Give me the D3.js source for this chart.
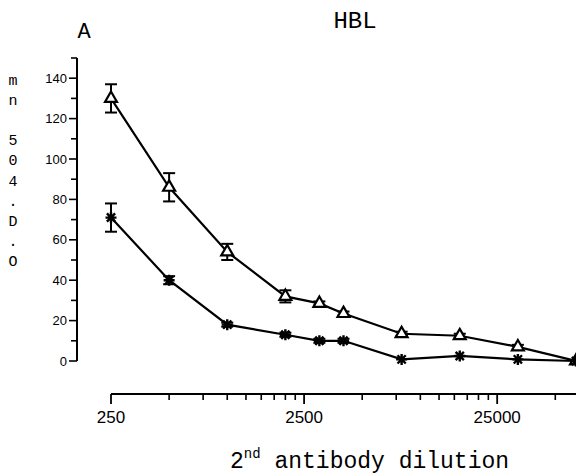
<!DOCTYPE html>
<html>
<head>
<meta charset="utf-8">
<script src="https://cdn.jsdelivr.net/npm/d3@7"></script>
<style>
  body { margin: 0; background: #fff; }
</style>
</head>
<body>
<script>
// dilution steps (x) and O.D. readings
var dilutions = [250, 500, 1000, 2000, 3000, 4000, 8000, 16000, 32000, 64000];
var triangleVals = [130, 86, 54, 32, 28.5, 23.5, 13.5, 12.5, 7, 0];
var triangleErr = [7, 7, 4, 3, 1, 1, 1, 1, 1, 0];
var starVals = [71, 40, 18, 13, 10, 10, 0.8, 2.5, 0.8, 0];
var starErr = [7, 2, 1, 1, 1, 1, 0, 0, 0, 0];
var xMajorTicks = [250, 2500, 25000];
var yTicks = [0, 20, 40, 60, 80, 100, 120, 140];

var svgWidth = 576;
var svgHeight = 474;

var svg = d3.select('body').append('svg')
  .attr('width', svgWidth)
  .attr('height', svgHeight);

var mono = '"Liberation Mono", "Courier New", monospace';
var sans = '"Liberation Sans", Arial, sans-serif';

var xScale = d3.scaleLog()
  .domain([250, 64000])
  .range([111, 576]);

var yScale = d3.scaleLinear()
  .domain([0, 150])
  .range([361, 58]);

// y axis
var yAxisX = 77;
var yg = svg.append('g');
yg.append('line')
  .attr('x1', yAxisX).attr('x2', yAxisX)
  .attr('y1', yScale(150)).attr('y2', yScale(0))
  .attr('stroke', '#000').attr('stroke-width', 2);
d3.range(0, 151, 10).forEach(function(v) {
  yg.append('line')
    .attr('x1', yAxisX - (v % 20 === 0 ? 8 : 6)).attr('x2', yAxisX)
    .attr('y1', yScale(v)).attr('y2', yScale(v))
    .attr('stroke', '#000').attr('stroke-width', 1.6);
});
yg.selectAll('text.ytick')
  .data(yTicks)
  .enter().append('text')
  .attr('class', 'ytick')
  .attr('x', yAxisX - 10)
  .attr('y', function(d) { return yScale(d) + 4.5; })
  .attr('text-anchor', 'end')
  .style('font-family', sans)
  .style('font-size', '13px')
  .text(function(d) { return d; });

// x axis
var xAxisY = 394;
var xg = svg.append('g');
xg.append('line')
  .attr('x1', xScale(250)).attr('x2', 576)
  .attr('y1', xAxisY).attr('y2', xAxisY)
  .attr('stroke', '#000').attr('stroke-width', 2);
var minor = [];
[250, 2500, 25000].forEach(function(base) {
  for (var m = 2; m <= 9; m++) minor.push(base * m);
});
minor = minor.filter(function(v) { return v <= 64000; });
minor.forEach(function(v) {
  xg.append('line')
    .attr('x1', xScale(v)).attr('x2', xScale(v))
    .attr('y1', xAxisY).attr('y2', xAxisY + 6)
    .attr('stroke', '#000').attr('stroke-width', 1.6);
});
xMajorTicks.forEach(function(v) {
  xg.append('line')
    .attr('x1', xScale(v)).attr('x2', xScale(v))
    .attr('y1', xAxisY).attr('y2', xAxisY + 10)
    .attr('stroke', '#000').attr('stroke-width', 1.8);
  xg.append('text')
    .attr('x', xScale(v))
    .attr('y', 423)
    .attr('text-anchor', 'middle')
    .style('font-family', sans)
    .style('font-size', '17px')
    .text(v);
});

// series lines
var line = d3.line()
  .x(function(d) { return xScale(d.x); })
  .y(function(d) { return yScale(d.y); });

function series(vals, errs) {
  return dilutions.map(function(x, i) { return { x: x, y: vals[i], e: errs[i] }; });
}
var triData = series(triangleVals, triangleErr);
var starData = series(starVals, starErr);

[triData, starData].forEach(function(data) {
  svg.append('path')
    .datum(data)
    .attr('d', line)
    .attr('fill', 'none')
    .attr('stroke', '#000')
    .attr('stroke-width', 2.2);

  // error bars
  data.filter(function(d) { return d.e > 0; }).forEach(function(d) {
    var cx = xScale(d.x);
    var g = svg.append('g').attr('stroke', '#000').attr('stroke-width', 2);
    g.append('line').attr('x1', cx).attr('x2', cx)
      .attr('y1', yScale(d.y + d.e)).attr('y2', yScale(d.y - d.e));
    g.append('line').attr('x1', cx - 6).attr('x2', cx + 6)
      .attr('y1', yScale(d.y + d.e)).attr('y2', yScale(d.y + d.e));
    g.append('line').attr('x1', cx - 6).attr('x2', cx + 6)
      .attr('y1', yScale(d.y - d.e)).attr('y2', yScale(d.y - d.e));
  });
});

// triangle markers
svg.selectAll('path.tri')
  .data(triData)
  .enter().append('path')
  .attr('class', 'tri')
  .attr('d', d3.symbol().type(d3.symbolTriangle).size(62))
  .attr('transform', function(d) { return 'translate(' + xScale(d.x) + ',' + yScale(d.y) + ')'; })
  .attr('fill', '#fff')
  .attr('stroke', '#000')
  .attr('stroke-width', 2.2);

// asterisk markers
var r = 5.5, rd = r * 0.75;
var starPath = 'M0,' + (-r) + 'L0,' + r +
  'M' + (-r) + ',0L' + r + ',0' +
  'M' + (-rd) + ',' + (-rd) + 'L' + rd + ',' + rd +
  'M' + (-rd) + ',' + rd + 'L' + rd + ',' + (-rd);
svg.selectAll('path.star')
  .data(starData)
  .enter().append('path')
  .attr('class', 'star')
  .attr('d', starPath)
  .attr('transform', function(d) { return 'translate(' + xScale(d.x) + ',' + yScale(d.y) + ')'; })
  .attr('fill', 'none')
  .attr('stroke', '#000')
  .attr('stroke-width', 2.4);

// titles
svg.append('text')
  .attr('x', 355).attr('y', 28)
  .attr('text-anchor', 'middle')
  .style('font-family', mono)
  .style('font-size', '24px')
  .text('HBL');
svg.append('text')
  .attr('x', 84).attr('y', 38)
  .attr('text-anchor', 'middle')
  .style('font-family', mono)
  .style('font-size', '22px')
  .text('A');

// y label, letters stacked
var yLabelChars = ['m', 'n', '', '5', '0', '4', '.', 'D', '.', 'O'];
svg.append('g').selectAll('text')
  .data(yLabelChars)
  .enter().append('text')
  .attr('x', 13)
  .attr('y', function(d, i) { return 85 + i * 20.1; })
  .attr('text-anchor', 'middle')
  .style('font-family', mono)
  .style('font-size', '15px')
  .text(function(d) { return d; });

// x label
var xl = svg.append('text')
  .attr('x', 230).attr('y', 468)
  .style('font-family', mono)
  .style('font-size', '23px');
xl.append('tspan').text('2');
xl.append('tspan').attr('dy', -10).style('font-size', '14px').text('nd');
xl.append('tspan').attr('dy', 10).text(' antibody dilution');
</script>
</body>
</html>
